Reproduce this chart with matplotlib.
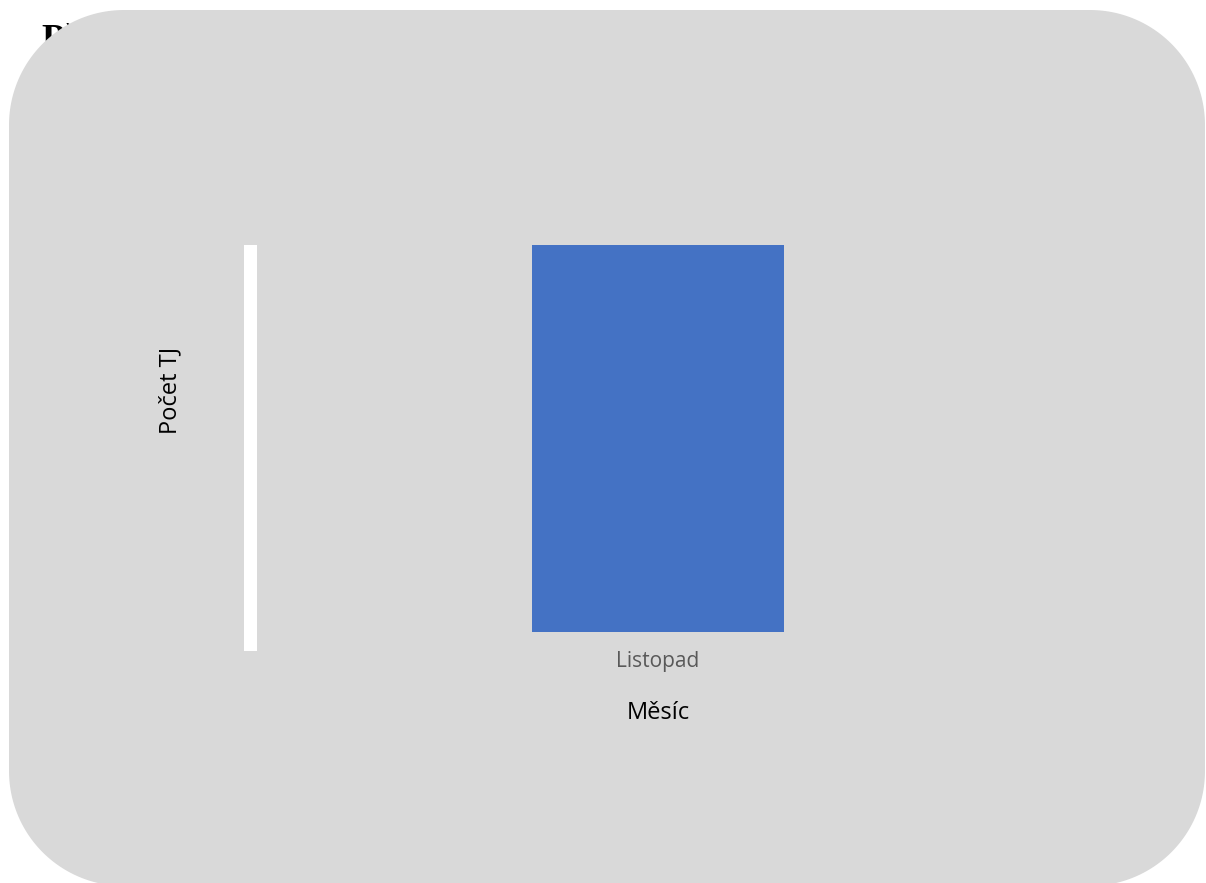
import numpy as np
import matplotlib.pyplot as plt
from matplotlib.patches import Polygon, Rectangle

plt.rcParams['font.family'] = ['Open Sans', 'DejaVu Sans']

mesice = ['Listopad']
pocet_tj = [1]


def zaobleny_obdelnik(x0, y0, x1, y1, r, n=60):
    # obrys s kruhovými rohy (y roste směrem dolů)
    body = []
    rohy = [(x1 - r, y0 + r, -90, 0), (x1 - r, y1 - r, 0, 90),
            (x0 + r, y1 - r, 90, 180), (x0 + r, y0 + r, 180, 270)]
    for cx, cy, a0, a1 in rohy:
        t = np.radians(np.linspace(a0, a1, n))
        body += list(zip(cx + r * np.cos(t), cy + r * np.sin(t)))
    return body


fig = plt.figure(figsize=(12.06, 8.83), dpi=100)

# pozadí v pixelových souřadnicích
bg = fig.add_axes([0, 0, 1, 1])
bg.set_xlim(0, 1206)
bg.set_ylim(883, 0)
bg.axis('off')
bg.text(41, 50, 'Přehled', family=['Liberation Serif'], fontweight='bold',
        fontsize=27, va='baseline', ha='left', zorder=1)
bg.add_patch(Polygon(zaobleny_obdelnik(9, 10, 1205, 886, 115), closed=True,
                     facecolor='#D9D9D9', edgecolor='none', zorder=2))
bg.add_patch(Rectangle((244, 245), 13, 406, facecolor='white',
                       edgecolor='none', zorder=3))

ax = fig.add_axes([257 / 1206, (883 - 632) / 883, 802 / 1206, 387 / 883])
ax.set_facecolor('none')
ax.bar(mesice, pocet_tj, width=0.314, color='#4472C4')
ax.set_xlim(-0.5, 0.5)
ax.set_ylim(0, max(pocet_tj))
for s in ax.spines.values():
    s.set_visible(False)
ax.set_yticks([])
ax.tick_params(axis='x', length=0, pad=14, labelsize=15, labelcolor='#595959')

ax.set_xlabel('Měsíc', fontsize=17)
ax.xaxis.set_label_coords(0.5, (632 - 713) / 387)
ax.xaxis.label.set_va('center')
ax.set_ylabel('Počet TJ', fontsize=17)
ax.yaxis.set_label_coords((170 - 257) / 802, (632 - 390) / 387)
ax.yaxis.label.set_va('center')

fig.savefig('out.png', dpi=100)
